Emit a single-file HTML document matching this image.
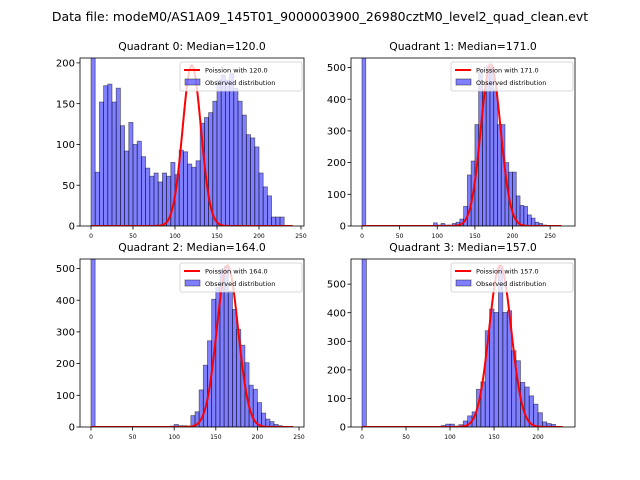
<!DOCTYPE html>
<html><head><meta charset="utf-8"><style>
html,body{margin:0;padding:0;background:#fff;}
svg{display:block;font-family:"DejaVu Sans","Liberation Sans",sans-serif;}
</style></head><body>
<svg id="fig" width="640" height="480" viewBox="0 0 640 480" xmlns="http://www.w3.org/2000/svg">
<rect width="640" height="480" fill="#fff"/>
<text x="320" y="21" font-size="12.5" text-anchor="middle" fill="#000">Data file: modeM0/AS1A09_145T01_9000003900_26980cztM0_level2_quad_clean.evt</text>
</svg>
<script>
const binWidth = 5;
const q0Starts = [0,5,10,15,20,25,30,35,40,45,50,55,60,65,70,75,80,85,90,95,100,105,110,115,120,125,130,135,140,145,150,155,160,165,170,175,180,185,190,195,200,205,210,215,220,225];
const q0Counts = [1000,66,152,172,174,152,169,123,92,127,100,104,85,71,61,65,54,65,61,78,63,93,91,76,72,80,126,133,139,153,179,185,179,187,169,153,136,112,108,97,65,48,37,11,11,11];
const q1Starts = [0,95,100,105,110,115,120,125,130,135,140,145,150,155,160,165,170,175,180,185,190,195,200,205,210,215,220,225,230,235,240];
const q1Counts = [1000,10,3,8,3,3,8,12,22,62,161,205,320,490,430,505,500,430,320,320,200,170,170,95,65,62,35,25,12,8,3];
const q2Starts = [0,95,100,105,110,115,120,125,130,135,140,145,150,155,160,165,170,175,180,185,190,195,200,205,210,215,220,225,230];
const q2Counts = [1000,3,8,4,4,3,36,48,117,195,272,403,440,497,507,429,371,308,258,203,132,119,77,44,25,17,8,4,2];
const q3Starts = [0,90,95,100,105,110,115,120,125,130,135,140,145,150,155,160,165,170,175,180,185,190,195,200,205,210,215];
const q3Counts = [1000,5,10,10,3,8,21,39,53,132,158,337,413,401,560,401,407,267,232,156,140,109,80,50,18,12,9];
const medians = [120.0, 171.0, 164.0, 157.0];
const poissonPeaks = [197, 510, 510, 565];
const curveEnds = [240, 265, 243, 228];
const q0YTicks = [0,50,100,150,200];
const q1YTicks = [0,100,200,300,400,500];
const q2YTicks = [0,100,200,300,400,500];
const q3YTicks = [0,100,200,300,400,500];
const q0XTicks = [0,50,100,150,200,250];
const q1XTicks = [0,50,100,150,200,250];
const q2XTicks = [0,50,100,150,200,250];
const q3XTicks = [0,50,100,150,200];

const NS = "http://www.w3.org/2000/svg";
const fig = document.getElementById('fig');
function mk(tag, attrs, parent){const e=document.createElementNS(NS,tag);for(const k in attrs)e.setAttribute(k,attrs[k]);(parent||fig).appendChild(e);return e;}

const panels = [
 {L:80,R:304,T:58,B:226,x0:-13.1,x1:253.6,y1:206,starts:q0Starts,counts:q0Counts,yt:q0YTicks,xt:q0XTicks},
 {L:351,R:575,T:58,B:226,x0:-14.6,x1:283,y1:530,starts:q1Starts,counts:q1Counts,yt:q1YTicks,xt:q1XTicks},
 {L:80,R:304,T:259,B:427,x0:-13.2,x1:256,y1:530,starts:q2Starts,counts:q2Counts,yt:q2YTicks,xt:q2XTicks},
 {L:351,R:575,T:259,B:427,x0:-12.5,x1:242,y1:588,starts:q3Starts,counts:q3Counts,yt:q3YTicks,xt:q3XTicks}
];

panels.forEach((p,qi)=>{
  const sx = v => p.L + (v - p.x0)/(p.x1 - p.x0)*(p.R - p.L);
  const sy = v => p.B - v/p.y1*(p.B - p.T);
  const g = mk('g',{});
  
  
  const cid='clip'+qi;
  const cp = mk('clipPath',{id:cid},g); mk('rect',{x:p.L,y:p.T,width:p.R-p.L,height:p.B-p.T},cp);
  const title = mk('text',{x:(p.L+p.R)/2,y:p.T-8,'font-size':'10.8','text-anchor':'middle',fill:'#000'},g);
  title.textContent = 'Quadrant '+qi+': Median='+medians[qi].toFixed(1);
  
  
  const bars = mk('g',{'clip-path':'url(#'+cid+')'},g);
  p.starts.forEach((s,i)=>{
    const x = sx(s), w = sx(s+binWidth)-x, y = sy(Math.min(p.counts[i], p.y1*1.05));
    const r = mk('rect',{x:x,y:y,width:w,height:p.B-y,fill:'rgba(0,0,255,0.5)',stroke:'rgba(0,0,0,0.5)','stroke-width':'0.8'},bars);
    
    
  });
  const lam = medians[qi]; let d='';
  for(let v=0; v<=curveEnds[qi]; v+=1){
    const val = poissonPeaks[qi]*Math.exp(-(v-lam)*(v-lam)/(2*lam));
    d += (v===0?'M':'L')+sx(v).toFixed(2)+','+sy(val).toFixed(2);
  }
  const curve = mk('path',{d:d,fill:'none',stroke:'#ff0000','stroke-width':'2','clip-path':'url(#'+cid+')'},g);
  
  
  mk('rect',{x:p.L,y:p.T,width:p.R-p.L,height:p.B-p.T,fill:'none',stroke:'#000','stroke-width':'0.8'},g);
  p.yt.forEach(t=>{
    const y=sy(t);
    mk('line',{x1:p.L-3.5,x2:p.L,y1:y,y2:y,stroke:'#000','stroke-width':'0.8'},g);
    const tx=mk('text',{x:p.L-5,y:y+3.6,'font-size':'10','text-anchor':'end',fill:'#000'},g);
    tx.textContent=t;
    
    
  });
  p.xt.forEach(t=>{
    const x=sx(t);
    mk('line',{x1:x,x2:x,y1:p.B,y2:p.B+3.5,stroke:'#000','stroke-width':'0.8'},g);
    const tx=mk('text',{x:x,y:p.B+12,'font-size':'6','text-anchor':'middle',fill:'#000'},g);
    tx.textContent=t;
    
    
  });
  const lg = mk('g',{},g);
  
  
  const lx = p.R-124, ly = p.T+4;
  mk('rect',{x:lx,y:ly,width:122,height:29,rx:2,fill:'rgba(255,255,255,0.8)',stroke:'#ccc','stroke-width':'0.8'},lg);
  mk('line',{x1:lx+4,x2:lx+20,y1:ly+8,y2:ly+8,stroke:'#ff0000','stroke-width':'2'},lg);
  const t1=mk('text',{x:lx+25,y:ly+10.5,'font-size':'6.5',fill:'#000'},lg);
  t1.textContent='Poission with '+medians[qi].toFixed(1);
  
  
  mk('rect',{x:lx+5,y:ly+17,width:15,height:6,fill:'rgba(0,0,255,0.5)',stroke:'rgba(0,0,0,0.5)','stroke-width':'0.8'},lg);
  const t2=mk('text',{x:lx+25,y:ly+23,'font-size':'6.5',fill:'#000'},lg);
  t2.textContent='Observed distribution';
  
  
});
</script>
</body></html>
